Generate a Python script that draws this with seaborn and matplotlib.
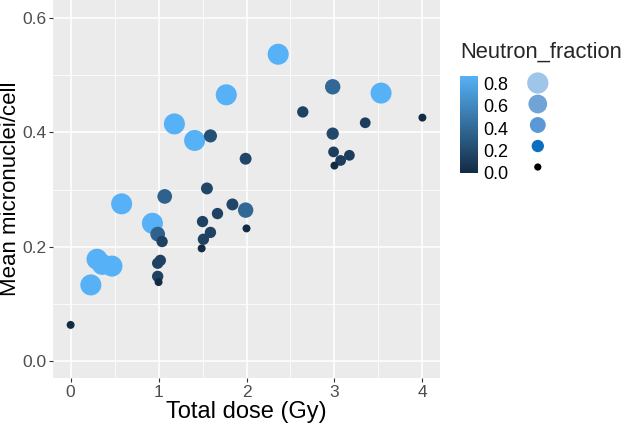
import numpy as np
import pandas as pd
import matplotlib
matplotlib.use("Agg")
import matplotlib.pyplot as plt
from matplotlib.colors import LinearSegmentedColormap, Normalize
from matplotlib.ticker import MultipleLocator, FormatStrFormatter
import seaborn as sns

# data
dose = [0.00, 0.23, 0.30, 0.36, 0.47, 0.58, 0.93, 1.18, 1.41, 1.77, 2.36, 3.53,
        2.98, 1.07, 1.99, 0.99, 1.59,
        1.04, 0.99, 1.02, 0.99, 1.50, 1.55, 1.67, 1.59, 1.51, 1.84, 2.64, 3.35,
        2.98, 2.99, 3.17, 3.07, 1.99,
        1.00, 1.49, 2.00, 4.00, 3.00]
micronuclei = [0.063, 0.133, 0.178, 0.169, 0.166, 0.275, 0.241, 0.415, 0.386, 0.466, 0.537, 0.469,
               0.480, 0.288, 0.264, 0.222, 0.394,
               0.209, 0.171, 0.176, 0.148, 0.244, 0.302, 0.258, 0.225, 0.213, 0.274, 0.436, 0.417,
               0.398, 0.366, 0.360, 0.351, 0.354,
               0.138, 0.197, 0.232, 0.426, 0.342]
neutron_fraction = [0.0, 0.87, 0.87, 0.87, 0.87, 0.87, 0.87, 0.87, 0.87, 0.87, 0.87, 0.87,
                    0.40, 0.35, 0.40, 0.35, 0.25,
                    0.15, 0.15, 0.15, 0.15, 0.15, 0.18, 0.15, 0.15, 0.15, 0.18, 0.15, 0.12,
                    0.20, 0.12, 0.12, 0.12, 0.18,
                    0.0, 0.0, 0.0, 0.0, 0.0]

df = pd.DataFrame({"dose": dose, "mn": micronuclei, "nf": neutron_fraction})

cbar_ticks = [0.0, 0.2, 0.4, 0.6, 0.8]
size_keys = [0.8, 0.6, 0.4, 0.2, 0.0]
size_key_colors = ["#9fc5e8", "#72a3d6", "#5b98d6", "#0b6fc0", "#000000"]

sns.set_theme(style="darkgrid", rc={
    "axes.facecolor": "#EBEBEB",
    "grid.color": "white",
    "axes.edgecolor": "#EBEBEB",
    "xtick.bottom": True, "ytick.left": True,
    "xtick.color": "#333333", "ytick.color": "#333333",
    "xtick.major.size": 3, "ytick.major.size": 3,
    "xtick.major.width": 0.8, "ytick.major.width": 0.8,
})
plt.rcParams["font.family"] = ["Liberation Sans", "DejaVu Sans"]

gg_cmap = LinearSegmentedColormap.from_list("gg", ["#132B43", "#56B1F7"])
norm = Normalize(0, 0.87)

fig = plt.figure(figsize=(6.29, 4.28), dpi=100)
ax = fig.add_axes([0.0843, 0.1168, 0.6152, 0.8832])

sns.scatterplot(data=df, x="dose", y="mn", hue="nf", size="nf",
                palette=gg_cmap, hue_norm=norm, sizes=(33, 229), size_norm=(0, 0.87),
                linewidth=0, legend=False, ax=ax, zorder=3)

ax.set_xlim(-0.2, 4.2)
ax.set_ylim(-0.03, 0.632)
ax.xaxis.set_major_locator(MultipleLocator(1))
ax.xaxis.set_minor_locator(MultipleLocator(0.5))
ax.yaxis.set_major_locator(MultipleLocator(0.2))
ax.yaxis.set_minor_locator(MultipleLocator(0.1))
ax.yaxis.set_major_formatter(FormatStrFormatter("%.1f"))
ax.grid(which="major", color="white", linewidth=1.1)
ax.grid(which="minor", color="white", linewidth=0.55)
ax.tick_params(which="minor", length=0)
ax.tick_params(which="major", labelsize=12.5, labelcolor="#4D4D4D", pad=2)
for s in ax.spines.values():
    s.set_visible(False)
ax.set_xlabel("Total dose (Gy)", fontsize=17, color="black", labelpad=1)
ax.set_ylabel("Mean micronuclei/cell", fontsize=16, color="black")
ax.yaxis.set_label_coords(-0.083, 0.5)

# legend: colour bar
fig.text(0.732, 0.878, "Neutron_fraction", fontsize=15.8, ha="left", va="center")
cax = fig.add_axes([0.731, 0.596, 0.0286, 0.227])
sm = plt.cm.ScalarMappable(cmap=gg_cmap, norm=norm)
cb = fig.colorbar(sm, cax=cax, ticks=cbar_ticks)
cb.outline.set_visible(False)
cb.ax.yaxis.set_major_formatter(FormatStrFormatter("%.1f"))
cb.ax.tick_params(length=4, width=0.8, color="white", direction="in", labelsize=13,
                  labelcolor="black", pad=4)
cb.ax.tick_params(which="minor", length=0)
cb.ax.grid(False)

# legend: size keys
kax = fig.add_axes([0.83, 0.5794, 0.05, 0.257])
kax.set_facecolor("none")
kax.scatter([0] * len(size_keys), size_keys,
            s=[norm(v) * 196 * 1.15 + 27 for v in size_keys],
            c=size_key_colors, linewidths=0)
kax.set_xlim(-1, 1)
kax.set_ylim(-0.1238, 0.9238)
kax.axis("off")

fig.savefig("out.png", dpi=100)
